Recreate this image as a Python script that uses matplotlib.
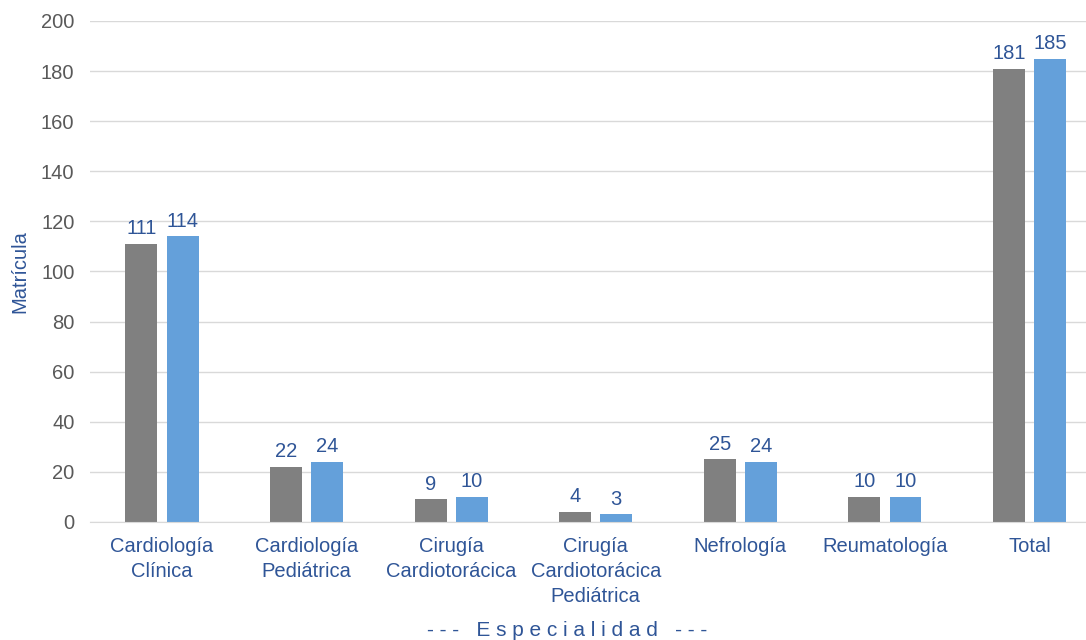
import matplotlib.pyplot as plt
import numpy as np

categorias = ["Cardiología\nClínica", "Cardiología\nPediátrica", "Cirugía\nCardiotorácica",
              "Cirugía\nCardiotorácica\nPediátrica", "Nefrología", "Reumatología", "Total"]
serie_gris = [111, 22, 9, 4, 25, 10, 181]
serie_azul = [114, 24, 10, 3, 24, 10, 185]
y_ticks = list(range(0, 201, 20))

plt.rcParams['font.family'] = ['Liberation Sans', 'DejaVu Sans']

azul_texto = "#2F5597"
fig = plt.figure(figsize=(10.86, 6.4), dpi=100)
ax = fig.add_axes([0.0826, 0.1844, 0.932, 0.7828])

x = np.arange(len(categorias))
w = 0.221
off = 0.142
b1 = ax.bar(x - off, serie_gris, w, color="#808080", zorder=3)
b2 = ax.bar(x + off, serie_azul, w, color="#64A0DA", zorder=3)

for bars in (b1, b2):
    for rect in bars:
        ax.annotate(str(int(rect.get_height())),
                    (rect.get_x() + rect.get_width() / 2, rect.get_height()),
                    xytext=(0, 4), textcoords="offset points",
                    ha="center", va="bottom", fontsize=14.5, color=azul_texto)

ax.set_xlim(-0.5, len(categorias) - 0.5)
ax.set_ylim(0, 200)
ax.set_yticks(y_ticks)
ax.tick_params(axis="y", length=0, pad=11, labelsize=14.5, labelcolor="#595959")
ax.set_xticks(x)
ax.set_xticklabels(categorias, fontsize=14.5, color=azul_texto, linespacing=1.38)
ax.tick_params(axis="x", length=0, pad=11)

ax.grid(axis="y", color="#D9D9D9", linewidth=1, zorder=0)
for s in ("top", "right", "left"):
    ax.spines[s].set_visible(False)
ax.spines["bottom"].set_color("#D9D9D9")
ax.spines["bottom"].set_zorder(4)

fig.text(20 / 1086, 1 - 272 / 640, "Matrícula", rotation=90, ha="center", va="center",
         fontsize=14.5, color=azul_texto)
fig.text(567 / 1086, 1 - 630 / 640, "- - -   E s p e c i a l i d a d   - - -", ha="center",
         va="center", fontsize=15, color=azul_texto)

plt.savefig("out.png", dpi=100)
